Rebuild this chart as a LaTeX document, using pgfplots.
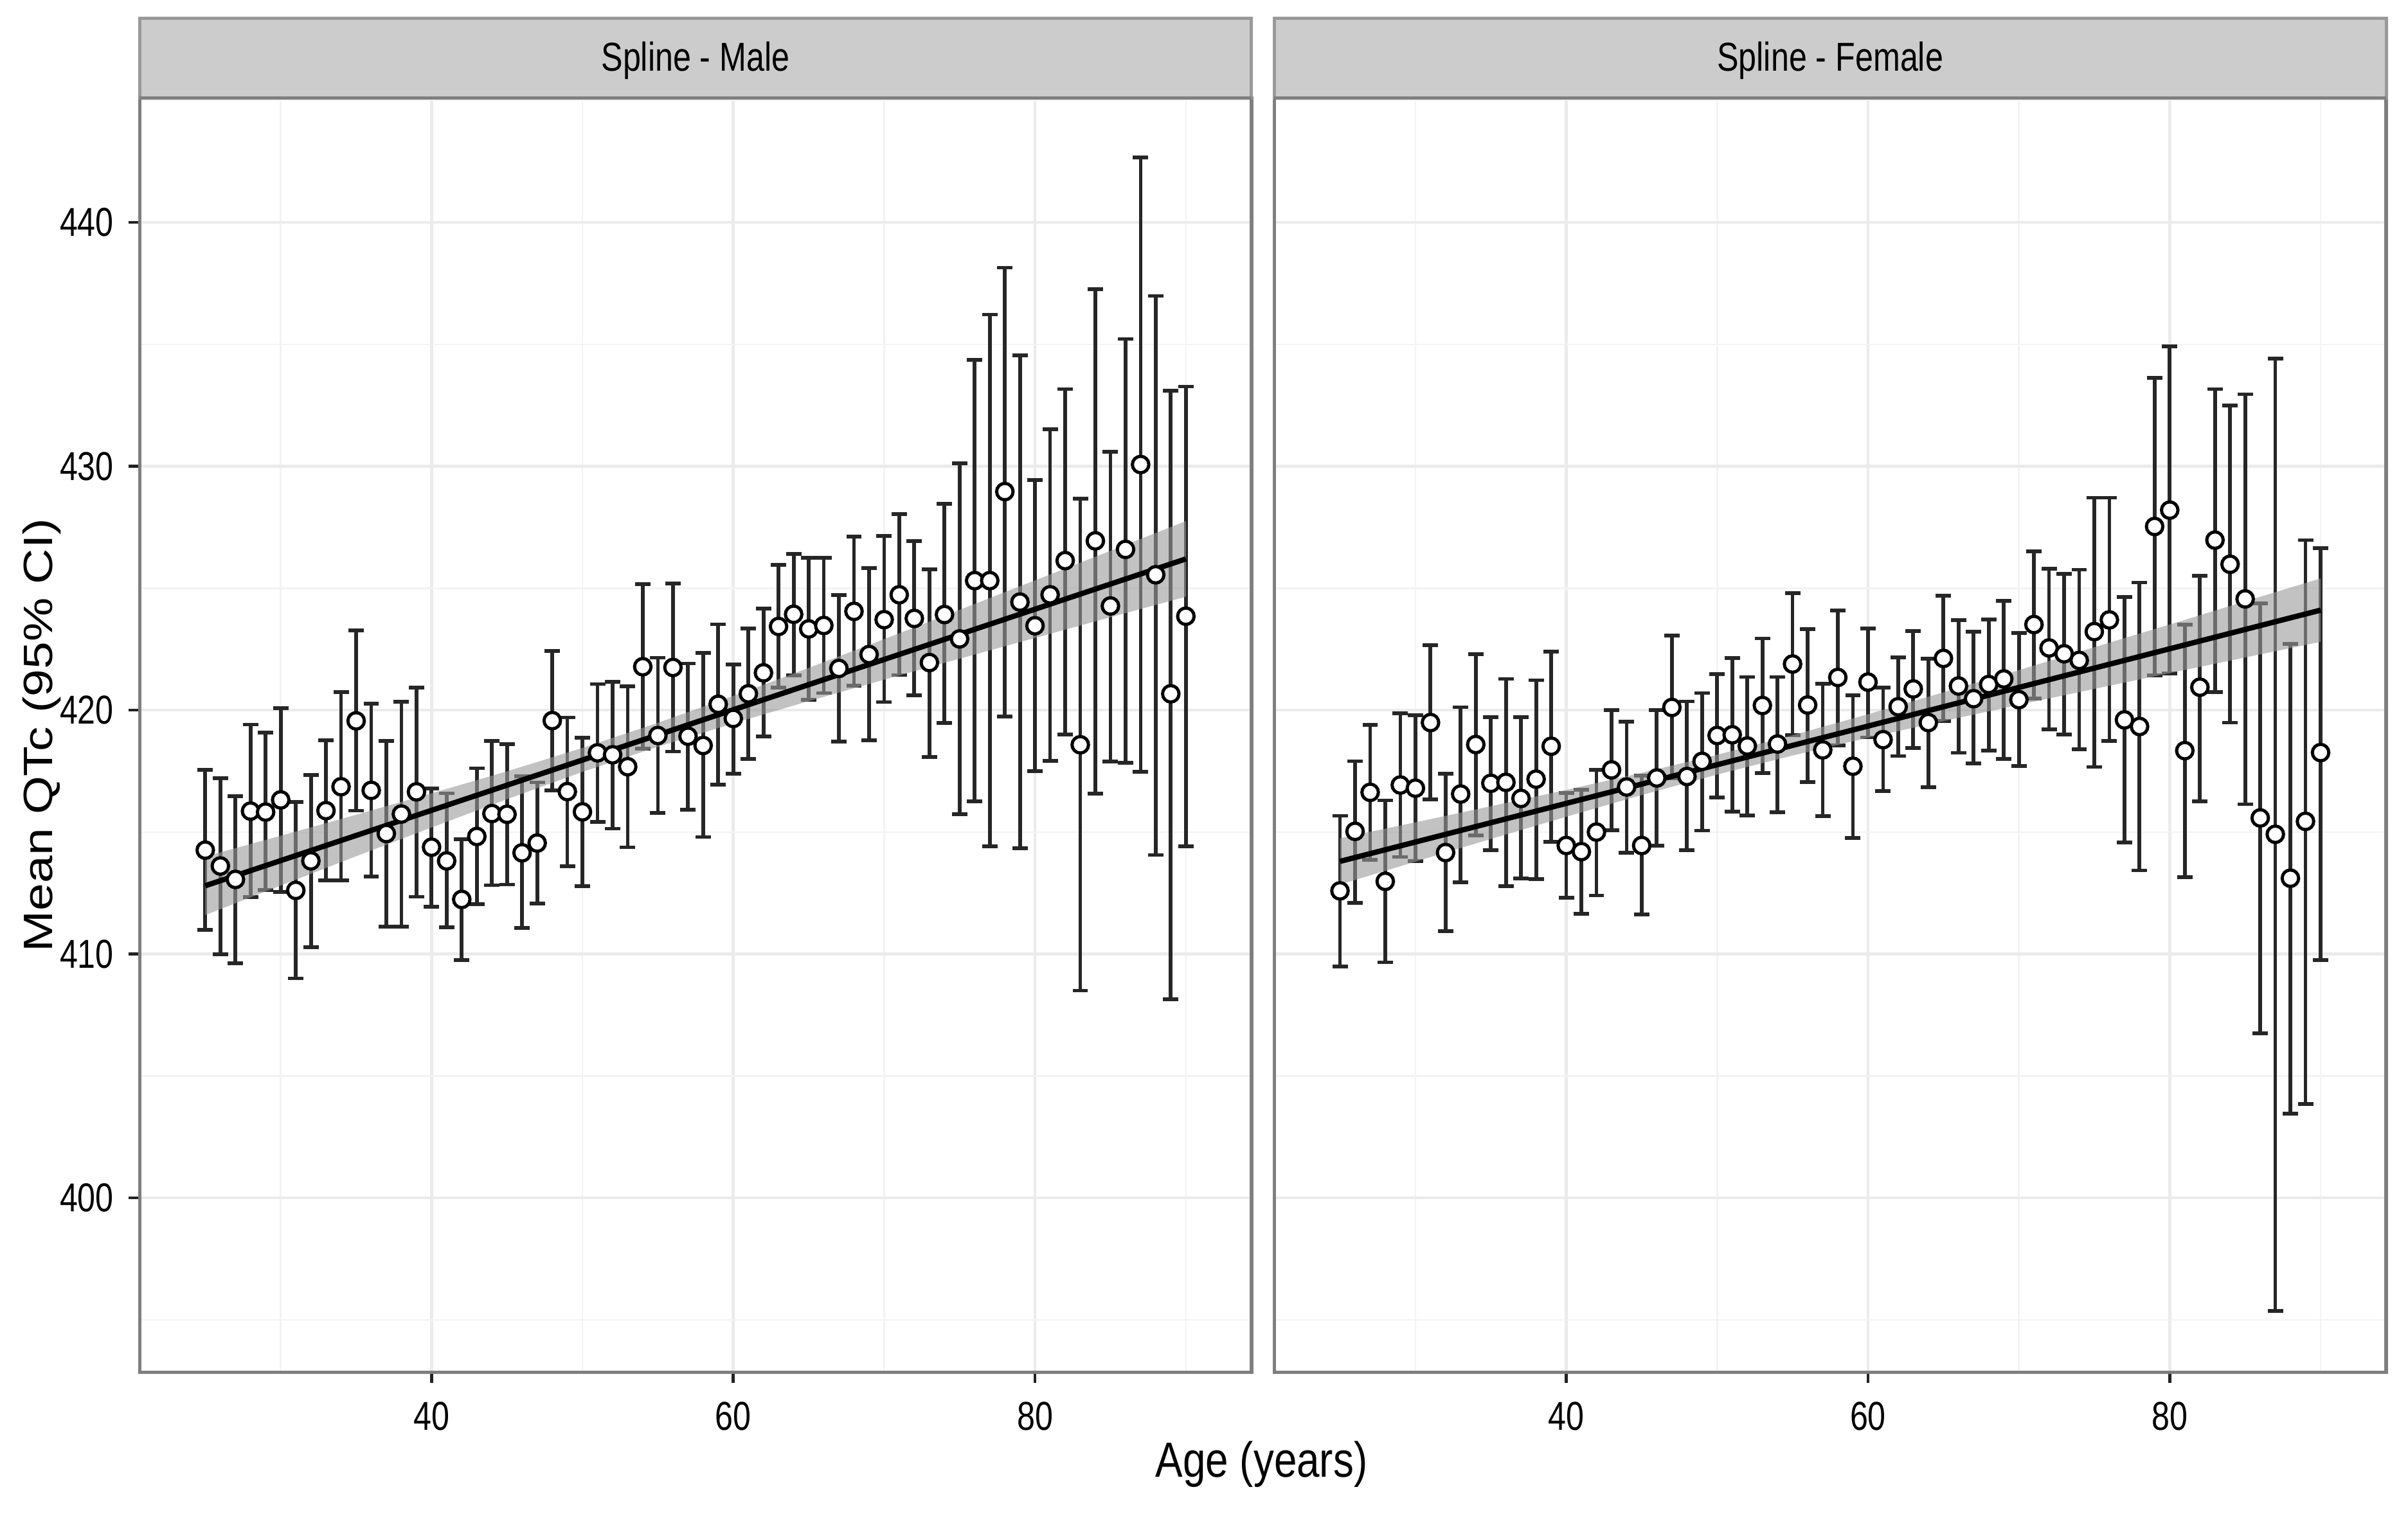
\documentclass[border=0pt]{standalone}
\usepackage{fontspec}
\setmainfont{Liberation Sans}
\usepackage{graphicx}
\usepackage{pgfplots}
\usepackage{pgfplotstable}
\pgfplotsset{compat=1.18}

\definecolor{gridmaj}{HTML}{EBEBEB}
\definecolor{gridmin}{HTML}{F3F3F3}
\definecolor{border}{HTML}{7F7F7F}
\definecolor{tickc}{HTML}{222222}
\definecolor{stripfill}{HTML}{CCCCCC}
\definecolor{stripbord}{HTML}{999999}
\definecolor{ebar}{HTML}{262626}
\definecolor{ribbon}{HTML}{999999}

\pgfplotstableread{
age m u l
25 414.26 417.55 411.00
26 413.61 417.20 410.00
27 413.06 416.47 409.62
28 415.86 419.41 412.33
29 415.82 419.08 412.62
30 416.32 420.08 412.55
31 412.61 416.24 409.00
32 413.82 417.35 410.29
33 415.88 418.76 413.02
34 416.86 420.73 413.02
35 419.56 423.26 415.88
36 416.71 420.26 413.18
37 414.94 418.73 411.12
38 415.74 420.35 411.12
39 416.65 420.92 412.35
40 414.38 416.79 411.94
41 413.82 416.59 411.09
42 412.24 414.71 409.76
43 414.82 417.62 412.04
44 415.76 418.73 412.82
45 415.73 418.61 412.85
46 414.15 417.29 411.08
47 414.55 417.04 412.08
48 419.57 422.43 416.70
49 416.66 419.70 413.59
50 415.83 418.87 412.78
51 418.25 421.07 415.42
52 418.17 421.17 415.14
53 417.68 420.98 414.38
54 421.78 425.17 418.42
55 418.96 422.15 415.79
56 421.75 425.20 418.30
57 418.93 421.91 415.91
58 418.55 422.35 414.80
59 420.24 423.52 416.94
60 419.66 421.88 417.40
61 420.67 423.34 418.00
62 421.53 424.16 418.93
63 423.43 425.95 420.92
64 423.93 426.41 421.42
65 423.33 426.25 420.42
66 423.47 426.25 420.70
67 421.71 424.71 418.71
68 424.05 427.12 421.00
69 422.28 425.83 418.76
70 423.71 427.15 420.33
71 424.73 428.03 421.44
72 423.76 426.94 420.60
73 421.95 425.78 418.07
74 423.92 428.45 419.47
75 422.92 430.12 415.73
76 425.31 434.36 416.26
77 425.31 436.22 414.41
78 428.96 438.14 419.74
79 424.43 434.55 414.34
80 423.46 429.44 417.49
81 424.73 431.51 417.93
82 426.13 433.16 419.00
83 418.58 428.68 408.50
84 426.94 437.26 416.57
85 424.27 430.60 417.89
86 426.59 435.22 417.84
87 430.07 442.67 417.47
88 425.55 436.98 414.06
89 420.67 433.09 408.14
90 423.85 433.27 414.41
}\maledata

\pgfplotstableread{
age m u l
25 412.59 415.67 409.49
26 415.03 417.91 412.09
27 416.63 419.40 413.87
28 412.98 416.30 409.66
29 416.93 419.88 413.98
30 416.80 419.79 413.81
31 419.49 422.67 416.33
32 414.16 417.39 410.93
33 416.56 420.12 412.95
34 418.59 422.30 414.86
35 417.00 419.71 414.25
36 417.04 421.28 412.79
37 416.38 419.71 413.09
38 417.17 421.23 413.07
39 418.52 422.39 414.61
40 414.45 416.61 412.31
41 414.20 416.74 411.65
42 415.00 417.55 412.40
43 417.55 420.01 415.08
44 416.85 419.53 414.16
45 414.45 417.32 411.63
46 417.22 420.01 414.45
47 420.11 423.05 417.20
48 417.28 420.36 414.26
49 417.90 420.70 415.06
50 418.96 421.47 416.41
51 418.99 422.14 415.83
52 418.53 421.36 415.68
53 420.19 422.94 417.41
54 418.61 421.36 415.82
55 421.89 424.80 418.97
56 420.21 423.32 417.06
57 418.37 421.09 415.66
58 421.34 424.08 418.56
59 417.70 420.61 414.75
60 421.15 423.34 418.88
61 418.79 420.92 416.68
62 420.14 422.16 418.12
63 420.87 423.25 418.44
64 419.49 422.12 416.84
65 422.12 424.69 419.55
66 420.99 423.69 418.25
67 420.47 423.21 417.81
68 421.05 423.71 418.34
69 421.28 424.49 418.00
70 420.43 423.17 417.71
71 423.51 426.51 420.48
72 422.55 425.79 419.22
73 422.31 425.58 419.00
74 422.04 425.76 418.39
75 423.22 428.71 417.67
76 423.70 428.71 418.74
77 419.60 424.64 414.58
78 419.33 425.23 413.43
79 427.53 433.62 421.42
80 428.20 434.91 421.50
81 418.34 423.51 413.16
82 420.94 425.50 416.27
83 426.97 433.16 420.75
84 425.98 432.49 419.49
85 424.56 432.95 416.14
86 415.58 424.37 406.76
87 414.91 434.42 395.36
88 413.11 422.71 403.46
89 415.44 426.97 403.86
90 418.26 426.65 409.76
}\femaledata

\pgfplotstableread{
age v
25 414.00
30 414.85
35 415.71
40 416.59
45 417.49
50 418.45
55 419.48
60 420.58
65 421.73
70 422.91
75 424.11
80 425.32
85 426.53
90 427.75
90 424.65
85 423.81
80 422.96
75 422.11
70 421.25
65 420.37
60 419.46
55 418.50
50 417.47
45 416.35
40 415.19
35 414.01
30 412.81
25 411.60
}\maleribbon

\pgfplotstableread{
age v
25 414.75
30 415.40
35 416.06
40 416.73
45 417.43
50 418.17
55 418.97
60 419.83
65 420.73
70 421.64
75 422.58
80 423.51
85 424.46
90 425.40
90 422.80
85 422.16
80 421.52
75 420.87
70 420.22
65 419.55
60 418.87
55 418.14
50 417.36
45 416.52
40 415.63
35 414.72
30 413.79
25 412.85
}\femaleribbon

\pgfplotsset{
  panel/.style={
    scale only axis, width=209.4pt, height=240pt, anchor=south west,
    xmin=20.65, xmax=94.35, ymin=392.86, ymax=445.09,
    xtick={40,60,80}, minor xtick={30,50,70,90},
    ytick={400,410,420,430,440}, minor ytick={395,405,415,425,435,445},
    grid=both,
    major grid style={draw=gridmaj, line width=0.55pt},
    minor grid style={draw=gridmin, line width=0.3pt},
    axis line style={draw=border, line width=0.65pt},
    tick align=outside, major tick length=2.06pt, minor tick length=0pt,
    tick style={draw=tickc, line width=0.55pt},
    tick pos=left,
    tick label style={font=\fontsize{7.6}{9}\selectfont, xscale=0.8},
    /pgf/number format/assume math mode=true,
    scaled ticks=false,
    clip=false,
  },
  pts/.style={only marks, mark=*, mark size=1.55pt,
    mark options={fill=white, draw=black, line width=0.6pt, solid},
    error bars/.cd, y dir=both, y explicit,
    error bar style={line width=0.7pt, draw=ebar},
    error mark options={rotate=90, mark size=1.45pt, line width=0.7pt, draw=ebar}},
}

\begin{document}
\begin{tikzpicture}
\useasboundingbox (0,0) rectangle (453.5pt,285.2pt);

% ---------------- Male panel
\begin{axis}[panel, at={(26.3pt,26.7pt)}]
\addplot[pts] table[x=age, y=m, y error plus expr=\thisrow{u}-\thisrow{m}, y error minus expr=\thisrow{m}-\thisrow{l}] {\maledata};
\addplot[draw=none, fill=ribbon, fill opacity=0.6] table[x=age, y=v] {\maleribbon} -- cycle;
\addplot[black, line width=1pt] coordinates {(25,412.8) (90,426.2)};
\draw[fill=stripfill, draw=stripbord, line width=0.6pt] (rel axis cs:0,1) rectangle ([yshift=15pt]rel axis cs:1,1);
\draw[draw=border, line width=0.65pt] (rel axis cs:0,1) -- (rel axis cs:1,1);
\node[anchor=base, font=\fontsize{7.6}{9}\selectfont] at ([yshift=5.1pt]rel axis cs:0.5,1) {\scalebox{0.8}[1]{Spline - Male}};
\end{axis}

% ---------------- Female panel
\begin{axis}[panel, at={(240.0pt,26.7pt)}, yticklabels={}, major y tick style={draw=none}]
\addplot[pts] table[x=age, y=m, y error plus expr=\thisrow{u}-\thisrow{m}, y error minus expr=\thisrow{m}-\thisrow{l}] {\femaledata};
\addplot[draw=none, fill=ribbon, fill opacity=0.6] table[x=age, y=v] {\femaleribbon} -- cycle;
\addplot[black, line width=1pt] coordinates {(25,413.8) (90,424.1)};
\draw[fill=stripfill, draw=stripbord, line width=0.6pt] (rel axis cs:0,1) rectangle ([yshift=15pt]rel axis cs:1,1);
\draw[draw=border, line width=0.65pt] (rel axis cs:0,1) -- (rel axis cs:1,1);
\node[anchor=base, font=\fontsize{7.6}{9}\selectfont] at ([yshift=5.1pt]rel axis cs:0.5,1) {\scalebox{0.8}[1]{Spline - Female}};
\end{axis}

% ---------------- Axis titles
\node[anchor=base, font=\fontsize{9.3}{11}\selectfont] at (237.6pt,6.9pt) {\scalebox{0.83}[1]{Age (years)}};
\node[anchor=base, rotate=90, font=\fontsize{9.3}{11}\selectfont] at (9.9pt,146.7pt) {\scalebox{1}[0.83]{Mean QTc (95\% CI)}};
\end{tikzpicture}
\end{document}
